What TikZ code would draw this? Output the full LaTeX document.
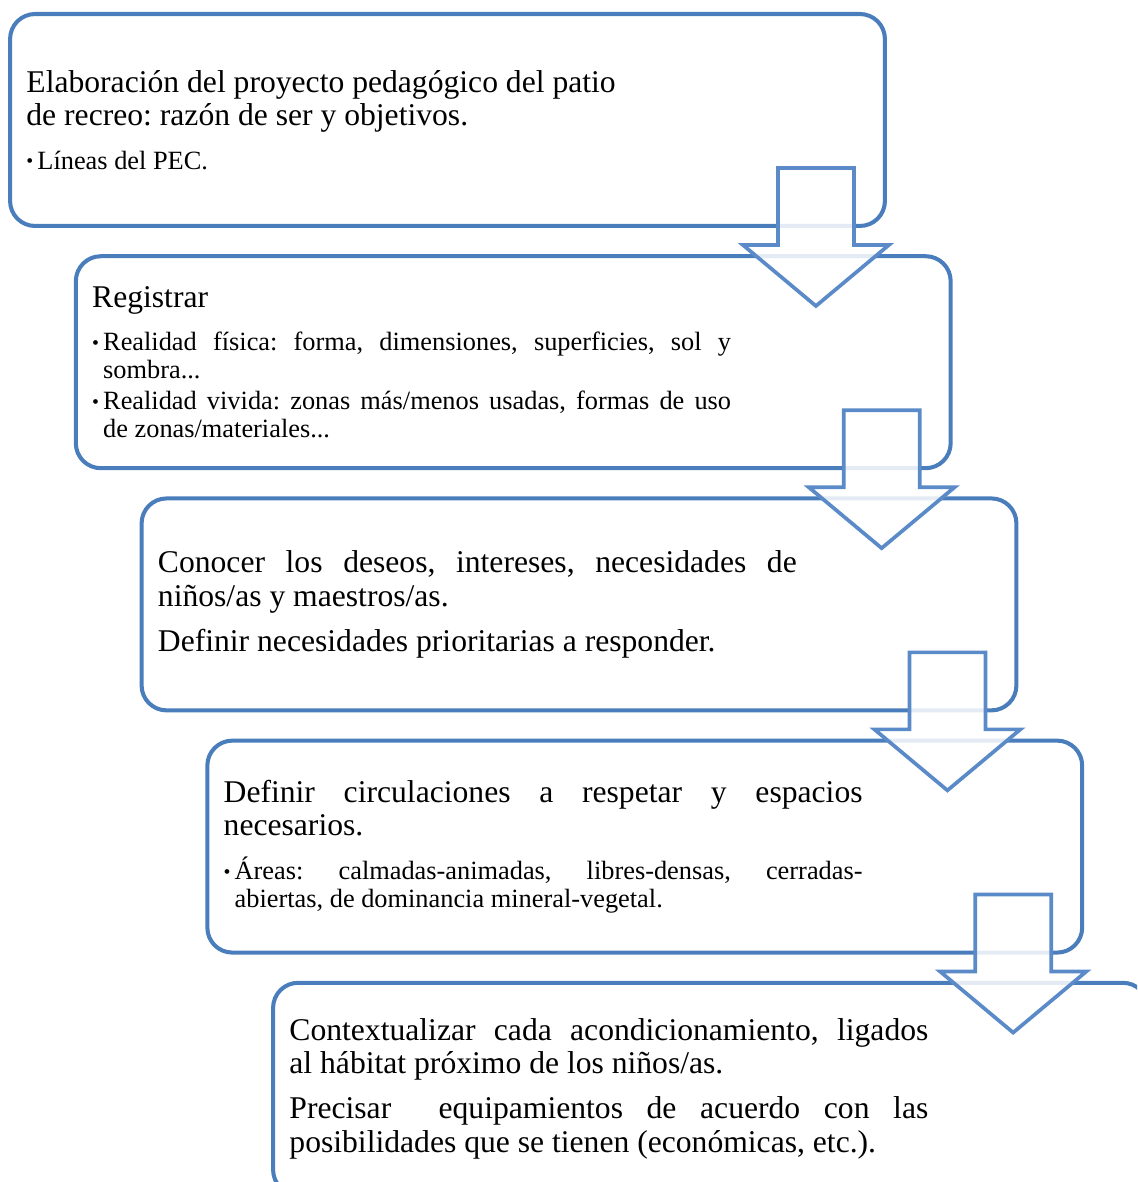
\documentclass[tikz,border=0pt]{standalone}
\usepackage{fontspec}
\setmainfont{Liberation Serif}
\usepackage{tikz}
\usetikzlibrary{positioning}
\definecolor{boxblue}{RGB}{74,125,187}
\definecolor{arrowblue}{RGB}{90,138,200}
\setlength{\parindent}{0pt}
\frenchspacing
\tolerance=10000
\hbadness=10000
\newcommand{\fsbig}{\fontsize{18}{19}\selectfont}
\newcommand{\fssmall}{\fontsize{15}{16}\selectfont}
\newcommand{\itm}[2][0.06cm]{\par\vspace{#1}{\fssmall\hangindent=0.22cm\hangafter=1\makebox[0.22cm][l]{\raisebox{0.04em}{\scalebox{0.75}{\textbullet}}}#2\par}}

\begin{document}
\begin{tikzpicture}[x=0.02cm, y=-0.02cm,
    stepbox/.style={draw=boxblue, line width=2.3pt, rounded corners=0.5cm,
        minimum width=17.5cm, minimum height=4.24cm, inner sep=0pt, outer sep=0pt},
    downarrow/.style={draw=arrowblue, line width=2.1pt, fill=white, fill opacity=0.85},
    steptext/.style={text width=12.78cm, align=justify, inner sep=0pt, font=\fsbig}]
    \clip (0,0) rectangle (1137,1182);
    \foreach \i in {1,...,5}
        \node[stepbox] (b\i) at ({447.5+65.75*(\i-1)},{120+242.2*(\i-1)}) {};
    \foreach \i in {1,...,4}
        \draw[downarrow, shift={(b\i.south east)}] (-107,-58) -- (-31,-58) -- (-31,19) -- (4,19)
            -- (-69,80) -- (-142,19) -- (-107,19) -- cycle;

    \node[steptext, right=0.32cm of b1.west] (t1) {Elaboración del proyecto pedagógico del patio\\
        de recreo: razón de ser y objetivos.
        \itm[0.3cm]{Líneas del PEC.}};
    \node[steptext, right=0.32cm of b2.west] (t2) {Registrar
        \itm[0.3cm]{Realidad física: forma, dimensiones, superficies, sol y\linebreak sombra...}
        \itm{Realidad vivida: zonas más/menos usadas, formas de uso\linebreak de zonas/materiales...}};
    \node[steptext, right=0.32cm of b3.west] (t3) {Conocer los deseos, intereses, necesidades de\linebreak
        niños/as y maestros/as.\par\vspace{0.23cm}
        Definir necesidades prioritarias a responder.};
    \node[steptext, right=0.32cm of b4.west] (t4) {Definir circulaciones a respetar y espacios\linebreak
        necesarios.
        \itm[0.3cm]{Áreas: calmadas-animadas, libres-densas, cerradas-\linebreak abiertas, de dominancia mineral-vegetal.}};
    \node[steptext, right=0.32cm of b5.west] (t5) {Contextualizar cada acondicionamiento, ligados\linebreak
        al hábitat próximo de los niños/as.\par\vspace{0.23cm}
        Precisar \ equipamientos de acuerdo con las\linebreak
        posibilidades que se tienen (económicas, etc.).};
\end{tikzpicture}
\end{document}
